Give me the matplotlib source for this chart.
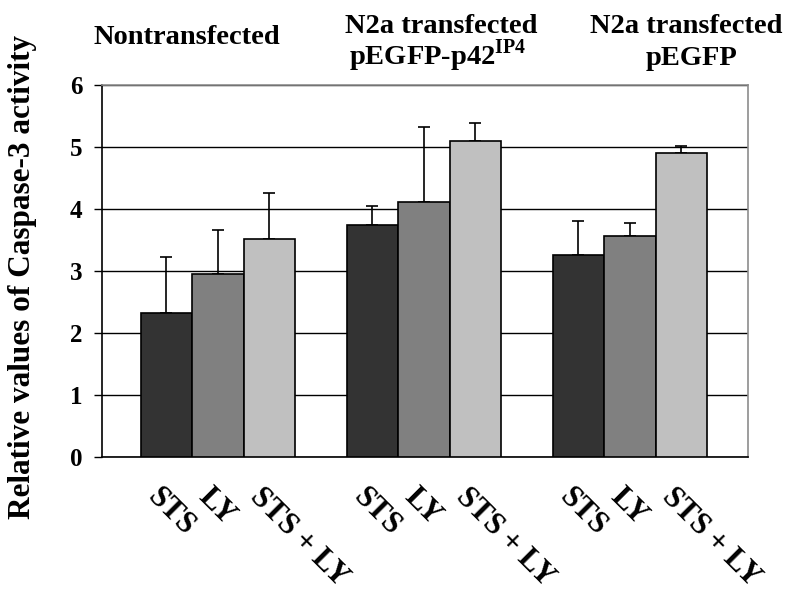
import matplotlib
matplotlib.use('Agg')
import matplotlib.pyplot as plt
import matplotlib.transforms as mtransforms
import numpy as np

plt.rcParams['font.family'] = ['Liberation Serif', 'DejaVu Serif']
plt.rcParams['font.weight'] = 'bold'
plt.rcParams['mathtext.fontset'] = 'custom'
plt.rcParams['mathtext.rm'] = 'Liberation Serif:bold'
plt.rcParams['mathtext.bf'] = 'Liberation Serif:bold'

# Caspase-3 activity (relative), three cell conditions x three treatments
treatments = ['STS', 'LY', 'STS + LY']
sts_mean = [2.33, 3.75, 3.26]
ly_mean = [2.95, 4.12, 3.56]
stsly_mean = [3.51, 5.09, 4.91]
sts_err = [0.90, 0.30, 0.55]
ly_err = [0.71, 1.20, 0.21]
stsly_err = [0.75, 0.30, 0.11]

means = [sts_mean, ly_mean, stsly_mean]
errs = [sts_err, ly_err, stsly_err]
colors = ['#333333', '#808080', '#c0c0c0']

W, H = 795, 601
fig = plt.figure(figsize=(W / 100, H / 100), dpi=100)
ax = fig.add_axes([102 / W, 1 - 457 / H, (748 - 102) / W, (457 - 85) / H])

groups = np.arange(3)
width = 0.25
offsets = [-width, 0, width]

for i in range(3):
    x = groups + offsets[i]
    ax.bar(x, means[i], width=width, color=colors[i], edgecolor='black',
           linewidth=1.2, zorder=3)
    ax.errorbar(x, means[i], yerr=[np.zeros(3), errs[i]], fmt='none',
                ecolor='black', elinewidth=1.2, capsize=4, capthick=1.2,
                zorder=2)

ax.set_xlim(-0.563, 2.573)
ax.set_ylim(0, 6)
ax.set_yticks(range(7))
ax.set_yticklabels([str(v) for v in range(7)])
ax.set_xticks([])
ax.yaxis.grid(True, color='black', linewidth=1.0, zorder=0)
ax.set_axisbelow(True)
ax.tick_params(axis='y', direction='out', length=6, width=1, pad=8,
               labelsize=18)
for lab in ax.get_yticklabels():
    lab.set_fontweight('bold')

ax.spines['left'].set_color('black')
ax.spines['bottom'].set_color('black')
ax.spines['top'].set_color('#8c8c8c')
ax.spines['right'].set_color('#8c8c8c')
for sp in ax.spines.values():
    sp.set_linewidth(1.2)

# rotated treatment labels under every bar
lab_tf = mtransforms.blended_transform_factory(ax.transData, ax.transAxes)
tf = lab_tf + mtransforms.ScaledTranslation(-5 / 100, -25 / 100,
                                            fig.dpi_scale_trans)
for i in range(3):
    for g in groups:
        ax.text(g + offsets[i], 0, treatments[i], transform=tf,
                rotation=-45, rotation_mode='anchor', ha='left', va='top',
                fontsize=22, fontweight='bold', clip_on=False)

# condition headings above the plot
def head(x, y, s):
    fig.text(x / W, 1 - y / H, s, ha='center', va='baseline',
             fontsize=20.5, fontweight='bold')

head(187, 44, 'Nontransfected')
head(441, 33, 'N2a transfected')
head(438, 65, r'pEGFP-p42$^{\mathrm{IP4}}$')
head(686, 33, 'N2a transfected')
head(691, 65, 'pEGFP')

fig.text(23 / W, 1 - 277 / H, 'Relative values of Caspase-3 activity',
         rotation=90, ha='center', va='center', fontsize=22.5,
         fontweight='bold')

fig.savefig('out.png', dpi=100, facecolor='white')
